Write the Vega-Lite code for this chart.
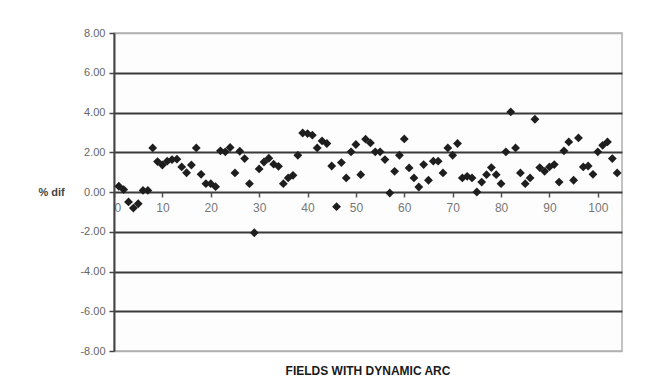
{
  "$schema": "https://vega.github.io/schema/vega-lite/v6.json",
  "width": 508,
  "height": 318,
  "autosize": "none",
  "padding": {"left": 114, "top": 33, "right": 29, "bottom": 41},
  "background": "#ffffff",
  "config": {
    "view": {"stroke": "#b0b0b0", "strokeWidth": 1.5, "fill": "#fdfdfd"},
    "font": "Liberation Sans"
  },
  "title": {
    "text": "FIELDS WITH DYNAMIC ARC",
    "orient": "bottom",
    "anchor": "middle",
    "font": "Liberation Sans",
    "fontSize": 12,
    "fontWeight": "bold",
    "color": "#1a1a1a",
    "offset": 10
  },
  "data": {
    "values": [
      {"n": 1, "dif": 0.29}, {"n": 2, "dif": 0.12}, {"n": 3, "dif": -0.5}, {"n": 4, "dif": -0.81},
      {"n": 5, "dif": -0.59}, {"n": 6, "dif": 0.08}, {"n": 7, "dif": 0.08}, {"n": 8, "dif": 2.22},
      {"n": 9, "dif": 1.53}, {"n": 10, "dif": 1.36}, {"n": 11, "dif": 1.55}, {"n": 12, "dif": 1.63},
      {"n": 13, "dif": 1.65}, {"n": 14, "dif": 1.26}, {"n": 15, "dif": 0.97}, {"n": 16, "dif": 1.36},
      {"n": 17, "dif": 2.22}, {"n": 18, "dif": 0.89}, {"n": 19, "dif": 0.42}, {"n": 20, "dif": 0.42},
      {"n": 21, "dif": 0.27}, {"n": 22, "dif": 2.07}, {"n": 23, "dif": 2.02}, {"n": 24, "dif": 2.24},
      {"n": 25, "dif": 0.96}, {"n": 26, "dif": 2.05}, {"n": 27, "dif": 1.68}, {"n": 28, "dif": 0.42},
      {"n": 29, "dif": -2.05}, {"n": 30, "dif": 1.16}, {"n": 31, "dif": 1.51}, {"n": 32, "dif": 1.7},
      {"n": 33, "dif": 1.4}, {"n": 34, "dif": 1.29}, {"n": 35, "dif": 0.42}, {"n": 36, "dif": 0.71},
      {"n": 37, "dif": 0.84}, {"n": 38, "dif": 1.85}, {"n": 39, "dif": 2.97}, {"n": 40, "dif": 2.94},
      {"n": 41, "dif": 2.86}, {"n": 42, "dif": 2.22}, {"n": 43, "dif": 2.57}, {"n": 44, "dif": 2.44},
      {"n": 45, "dif": 1.31}, {"n": 46, "dif": -0.74}, {"n": 47, "dif": 1.48}, {"n": 48, "dif": 0.71},
      {"n": 49, "dif": 2.02}, {"n": 50, "dif": 2.39}, {"n": 51, "dif": 0.87}, {"n": 52, "dif": 2.66},
      {"n": 53, "dif": 2.47}, {"n": 54, "dif": 2.02}, {"n": 55, "dif": 2.02}, {"n": 56, "dif": 1.63},
      {"n": 57, "dif": -0.05}, {"n": 58, "dif": 1.04}, {"n": 59, "dif": 1.85}, {"n": 60, "dif": 2.67},
      {"n": 61, "dif": 1.21}, {"n": 62, "dif": 0.71}, {"n": 63, "dif": 0.25}, {"n": 64, "dif": 1.38},
      {"n": 65, "dif": 0.59}, {"n": 66, "dif": 1.55}, {"n": 67, "dif": 1.55}, {"n": 68, "dif": 0.96},
      {"n": 69, "dif": 2.22}, {"n": 70, "dif": 1.85}, {"n": 71, "dif": 2.44}, {"n": 72, "dif": 0.71},
      {"n": 73, "dif": 0.79}, {"n": 74, "dif": 0.71}, {"n": 75, "dif": 0.0}, {"n": 76, "dif": 0.5},
      {"n": 77, "dif": 0.87}, {"n": 78, "dif": 1.23}, {"n": 79, "dif": 0.87}, {"n": 80, "dif": 0.42},
      {"n": 81, "dif": 2.02}, {"n": 82, "dif": 4.03}, {"n": 83, "dif": 2.22}, {"n": 84, "dif": 0.96},
      {"n": 85, "dif": 0.42}, {"n": 86, "dif": 0.71}, {"n": 87, "dif": 3.66}, {"n": 88, "dif": 1.23},
      {"n": 89, "dif": 1.04}, {"n": 90, "dif": 1.26}, {"n": 91, "dif": 1.38}, {"n": 92, "dif": 0.5},
      {"n": 93, "dif": 2.07}, {"n": 94, "dif": 2.52}, {"n": 95, "dif": 0.59}, {"n": 96, "dif": 2.72},
      {"n": 97, "dif": 1.26}, {"n": 98, "dif": 1.31}, {"n": 99, "dif": 0.89}, {"n": 100, "dif": 2.02},
      {"n": 101, "dif": 2.35}, {"n": 102, "dif": 2.52}, {"n": 103, "dif": 1.68}, {"n": 104, "dif": 0.96}
    ]
  },
  "mark": {"type": "point", "shape": "diamond", "filled": true, "size": 78, "color": "#1e1e1e", "opacity": 1},
  "encoding": {
    "x": {
      "field": "n",
      "type": "quantitative",
      "scale": {"domain": [0, 105], "nice": false, "zero": false},
      "axis": {
        "values": [0, 10, 20, 30, 40, 50, 60, 70, 80, 90, 100],
        "offset": -159,
        "grid": false,
        "domain": false,
        "title": null,
        "ticks": true,
        "tickSize": 5,
        "tickColor": "#555555",
        "tickWidth": 1.5,
        "labelPadding": 5,
        "labelFont": "Liberation Sans",
        "labelFontSize": 12,
        "labelColor": "#777777"
      }
    },
    "y": {
      "field": "dif",
      "type": "quantitative",
      "scale": {"domain": [-8, 8], "nice": false},
      "axis": {
        "values": [-8, -6, -4, -2, 0, 2, 4, 6, 8],
        "labelExpr": "replace(format(datum.value, '.2f'), '\u2212', '-')",
        "grid": true,
        "gridColor": {"condition": {"test": "abs(datum.value) == 8", "value": "#b0b0b0"}, "value": "#3a3a3a"},
        "gridWidth": {"condition": {"test": "abs(datum.value) == 8", "value": 1.5}, "value": 2},
        "gridOpacity": 1,
        "domain": true,
        "domainColor": "#444444",
        "domainWidth": 2,
        "tickSize": 5,
        "tickColor": "#444444",
        "tickWidth": 1.5,
        "labelPadding": 4,
        "labelFont": "Liberation Sans",
        "labelFontSize": 11,
        "labelColor": "#666666",
        "title": "% dif",
        "titleAngle": 0,
        "titleFont": "Liberation Sans",
        "titleFontSize": 11,
        "titleFontWeight": "bold",
        "titleColor": "#444444",
        "titleAlign": "left",
        "titleBaseline": "middle",
        "titleX": -76,
        "titleY": 159
      }
    }
  }
}
